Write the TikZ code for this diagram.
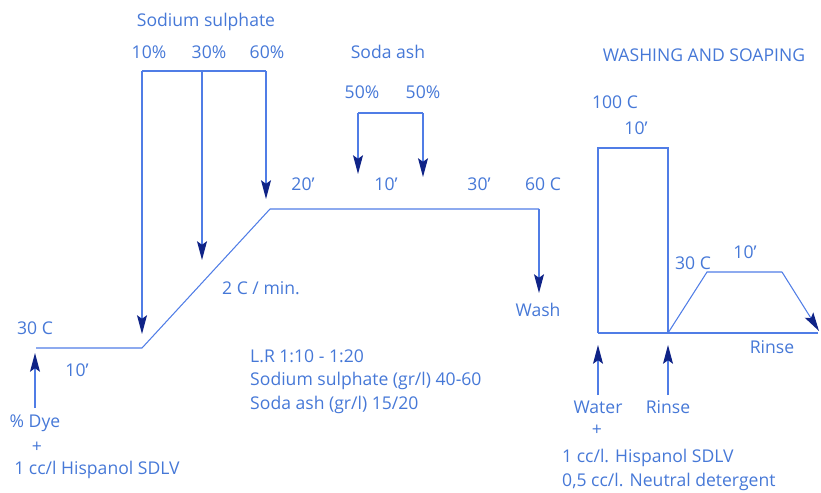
\documentclass[tikz,border=0pt]{standalone}
\usepackage{fontspec}
\setmainfont{Open Sans}
\usetikzlibrary{arrows.meta, positioning}

\definecolor{lineblue}{RGB}{80,125,230}
\definecolor{textblue}{RGB}{70,120,215}
\definecolor{tipblue}{RGB}{15,35,135}

\tikzset{
	lbl/.style={text=textblue, inner sep=0pt, font=\fontsize{15}{17}\selectfont},
	lblleft/.style={lbl, anchor=west},
	profile/.style={draw=lineblue, line width=0.9pt},
	dose/.style={draw=lineblue, line width=0.9pt, -{Stealth[length=16pt,width=8.5pt,inset=3pt,color=tipblue]}}
}

\begin{document}
\begin{tikzpicture}[x=0.03cm, y=-0.03cm]
	\useasboundingbox (0,0) rectangle (821,492);

	% dyeing profile
	\coordinate (start) at (36,348);
	\coordinate (rampLow) at (142,348);
	\coordinate (rampTop) at (270,209);
	\coordinate (holdEnd) at (539,209);
	\coordinate (washTip) at (539,293);

	% sodium sulphate additions
	\coordinate (sulA) at (142,71);
	\coordinate (sulB) at (202,71);
	\coordinate (sulC) at (266,71);
	\coordinate (sulAtip) at (142,334);
	\coordinate (sulBtip) at (202,260);
	\coordinate (sulCtip) at (266,199);

	% soda ash additions
	\coordinate (sodaA) at (358,113);
	\coordinate (sodaB) at (423,113);
	\coordinate (sodaAtip) at (358,174);
	\coordinate (sodaBtip) at (423,177);

	% dye addition
	\coordinate (dyeFoot) at (35,408);
	\coordinate (dyeTip) at (35,353);

	% washing and soaping
	\coordinate (boilBL) at (598,333);
	\coordinate (boilTL) at (598,148);
	\coordinate (boilTR) at (668,148);
	\coordinate (boilBR) at (668,333);
	\coordinate (soapEnd) at (818,333);
	\coordinate (soapUp) at (707,272);
	\coordinate (soapTop) at (782,272);
	\coordinate (soapTip) at (819,331);
	\coordinate (waterFoot) at (598,395);
	\coordinate (waterTip) at (598,345);
	\coordinate (rinseFoot) at (668,395);
	\coordinate (rinseTip) at (668,345);

	% labels
	\node[lbl] (sulTitle) at (206,22) {Sodium sulphate};
	\node[lbl] (sulTen) at (149,52) {10\%};
	\node[lbl] (sulThirty) at (209,52) {30\%};
	\node[lbl] (sulSixty) at (267,52) {60\%};
	\node[lbl] (sodaTitle) at (388,52) {Soda ash};
	\node[lbl] (sodaHalfA) at (362,92) {50\%};
	\node[lbl] (sodaHalfB) at (423,92) {50\%};
	\node[lbl] (holdA) at (303,184) {20'};
	\node[lbl] (holdB) at (386,184) {10'};
	\node[lbl] (holdC) at (479,184) {30'};
	\node[lbl] (holdTemp) at (543,184) {60 C};
	\node[lbl] (wash) at (538,310) {Wash};
	\node[lbl] (startTemp) at (35,328) {30 C};
	\node[lbl] (startTime) at (77,370) {10'};
	\node[lbl] (rampRate) at (261,288) {2 C / min.};
	\node[lblleft] (ratio) at (250,356) {L.R 1:10 - 1:20};
	\node[lblleft] (sulDose) at (250,381) {Sodium sulphate (gr/l) 40-60};
	\node[lblleft] (sodaDose) at (250,405) {Soda ash (gr/l) 15/20};
	\node[lbl] (dye) at (35,423) {\% Dye};
	\node[lbl] (dyePlus) at (37,447) {+};
	\node[lbl] (dyeAux) at (97,470) {1 cc/l Hispanol SDLV};

	\node[lbl] (soapTitle) at (704,55) {WASHING AND SOAPING};
	\node[lbl] (boilTemp) at (615,102) {100 C};
	\node[lbl] (boilTime) at (636,128) {10'};
	\node[lbl] (soapTemp) at (693,263) {30 C};
	\node[lbl] (soapTime) at (745,252) {10'};
	\node[lbl] (rinseEnd) at (772,347) {Rinse};
	\node[lbl] (water) at (598,407) {Water};
	\node[lbl] (rinse) at (668,407) {Rinse};
	\node[lbl] (waterPlus) at (597,430) {+};
	\node[lblleft] (soapAux) at (562,458) {1 cc/l. Hispanol SDLV};
	\node[lblleft] (soapDet) at (562,482) {0,5 cc/l. Neutral detergent};

	% lines
	\draw[profile] (start) -- (rampLow) -- (rampTop) -- (holdEnd);
	\draw[dose] (holdEnd) -- (washTip);
	\draw[profile] (sulA) -- (sulC);
	\draw[dose] (sulA) -- (sulAtip);
	\draw[dose] (sulB) -- (sulBtip);
	\draw[dose] (sulC) -- (sulCtip);
	\draw[profile] (sodaA) -- (sodaB);
	\draw[dose] (sodaA) -- (sodaAtip);
	\draw[dose] (sodaB) -- (sodaBtip);
	\draw[dose] (dyeFoot) -- (dyeTip);

	\draw[profile] (boilBL) -- (boilTL) -- (boilTR) -- (boilBR);
	\draw[profile] (boilBL) -- (soapEnd);
	\draw[profile] (boilBR) -- (soapUp) -- (soapTop);
	\draw[dose] (soapTop) -- (soapTip);
	\draw[dose] (waterFoot) -- (waterTip);
	\draw[dose] (rinseFoot) -- (rinseTip);
\end{tikzpicture}
\end{document}
